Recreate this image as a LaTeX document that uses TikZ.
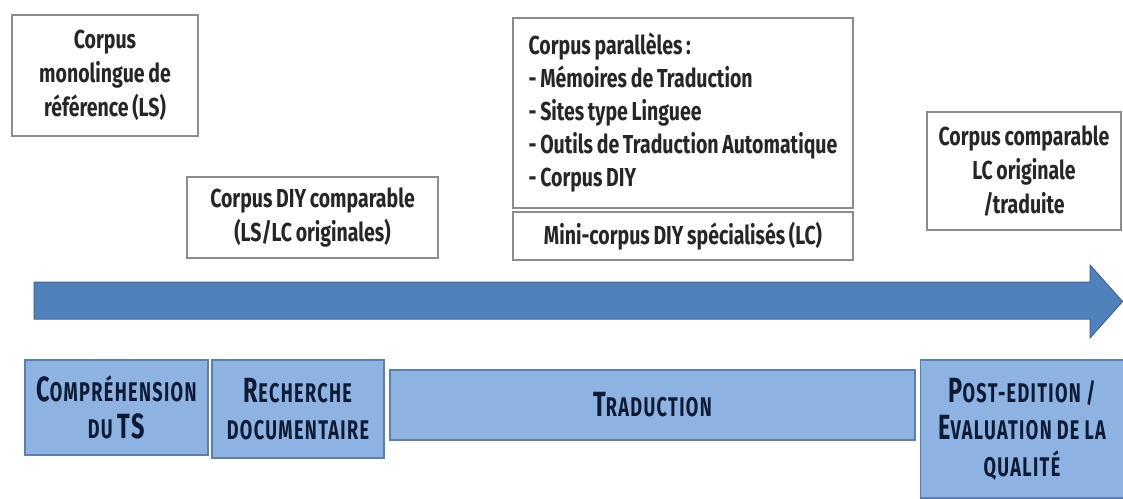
\documentclass[tikz,border=0pt]{standalone}
\usepackage{fontspec}
\setmainfont{Fira Sans}[FakeStretch=0.75, WordSpace=0.8]
\newfontfamily\capfont{Fira Sans}[FakeStretch=0.67, LetterSpace=5, WordSpace=0.9]
\definecolor{boxline}{HTML}{8C8C8C}
\definecolor{bluefill}{HTML}{8DB3E2}
\definecolor{blueline}{HTML}{5A7FB0}
\definecolor{arrowfill}{HTML}{4F81BD}
\definecolor{arrowline}{HTML}{3C6496}
\definecolor{navy}{HTML}{0E1A33}
\definecolor{txt}{HTML}{262626}
\newcommand\SCap[2]{{\fontsize{35}{37}\selectfont #1}{\fontsize{27}{37}\selectfont #2}}
\begin{document}
\begin{tikzpicture}[x=1pt,y=-1pt,
  wbox/.style={draw=boxline, line width=1.2pt, fill=white, inner sep=0pt, text=txt,
    font=\bfseries\fontsize{26}{34}\selectfont, align=center},
  bbox/.style={draw=blueline, line width=1.2pt, fill=bluefill, inner sep=0pt, text=navy,
    align=center, font=\capfont\bfseries\fontsize{27}{37}\selectfont}]
\useasboundingbox (0,0) rectangle (1123,498);
\fill[white] (0,0) rectangle (1123,498);

% top boxes
\node[wbox, minimum width=186pt, minimum height=121pt] (mono) at (105,75.5)
  {Corpus\\monolingue de\\référence (LS)};
\node[wbox, minimum width=251pt, minimum height=81pt] (diy) at (312.5,217.5)
  {Corpus DIY comparable\\(LS/LC originales)};
\node[wbox, minimum width=340pt, minimum height=190pt, align=left,
  font=\bfseries\fontsize{26}{33}\selectfont] (para) at (683,113)
  {Corpus parallèles :\\- Mémoires de Traduction\\- Sites type Linguee\\- Outils de Traduction Automatique\\- Corpus DIY};
\node[wbox, minimum width=340pt, minimum height=48pt] (mini) at (683,236)
  {Mini-corpus DIY spécialisés (LC)};
\node[wbox, minimum width=194pt, minimum height=118pt] (comp) at (1024,171)
  {Corpus comparable\\LC originale\\/traduite};

% big arrow
\draw[fill=arrowfill, draw=arrowline, line width=1pt, line join=miter]
  (34,282) -- (1090,282) -- (1090,265) -- (1122.5,301.5) -- (1090,338) -- (1090,319) -- (34,319) -- cycle;

% bottom boxes
\node[bbox, minimum width=183pt, minimum height=95pt] (compr) at (116.5,407.5)
  {\SCap{C}{OMPRÉHENSION}\\\SCap{}{DU }\SCap{TS}{}};
\node[bbox, minimum width=172pt, minimum height=98pt] (rech) at (298,409)
  {\SCap{R}{ECHERCHE}\\\SCap{}{DOCUMENTAIRE}};
\node[bbox, minimum width=525pt, minimum height=70pt] (trad) at (652.5,405)
  {\SCap{T}{RADUCTION}};
\node[bbox, minimum width=203pt, minimum height=138pt] (post) at (1022,429)
  {\SCap{P}{OST-EDITION /}\\\SCap{E}{VALUATION DE LA}\\\SCap{}{QUALITÉ}};
\end{tikzpicture}
\end{document}
